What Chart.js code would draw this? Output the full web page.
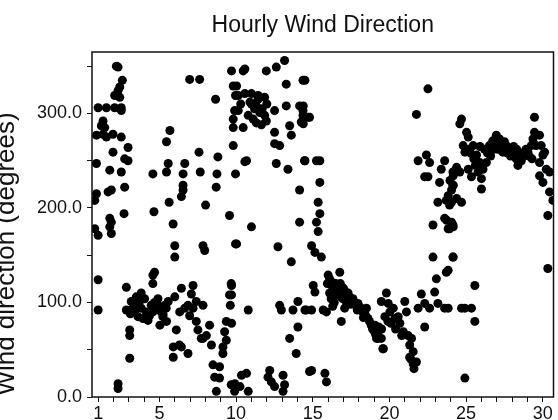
<!DOCTYPE html>
<html>
<head>
<meta charset="utf-8">
<script src="https://cdn.jsdelivr.net/npm/chart.js@4/dist/chart.umd.min.js"></script>
<style>
  html, body { margin: 0; padding: 0; background: #fff; }
  #wrap { width: 558px; height: 420px; }
</style>
</head>
<body>
<div id="wrap"><canvas id="windChart" width="558" height="420"></canvas></div>
<script>
// hourly readings as [day, direction in degrees]
const firstWeek = [
  [2.19,350],[2.3,349],[2.58,335],[2.41,328],[2.3,324],[2.08,319],[2.41,317],
  [1.0,306],[1.54,306],[2.08,306],[2.51,306],[2.51,303],
  [1.32,292],[1.21,287],[1.43,285],[1.32,278],[0.89,277],[1.54,275],[1.97,278],[2.51,275],
  [2.95,264],[1.97,259],[2.73,252],[2.95,250],[0.89,247],[1.76,240],[2.51,238],
  [4.57,236],[2.73,222],[1.86,219],[1.65,217],[0.89,215],[0.78,208],
  [2.69,194],[4.64,196],[1.76,189],[1.86,185],[1.76,180],[1.86,173],[0.78,178],[1.0,171],
  [4.68,132],[4.57,129],[1.0,124],[4.57,120],[2.84,116],[1.0,92],[2.84,92],
  [3.06,71],[3.06,65],[3.06,41],[2.3,14],[2.3,9],
  [3.81,110],[3.49,106],[3.16,101],[3.7,101],[4.03,104],[4.9,104],[3.27,94],[3.38,90],
  [3.81,94],[4.14,90],[3.6,85],[3.92,83],[4.25,81],[4.57,90],[4.79,94],[5.11,90],
  [5.22,85],[4.9,97],[4.46,97],[5.44,94],[3.1,88],[3.55,96],[4.35,86],[4.68,100],
  [5.14,94],[5.24,87],[5.46,80],[5.03,76],[5.35,97],[5.57,101],
  [6.0,106],[6.43,115],[7.08,109],[7.19,118],[6.32,90],[6.65,94],[6.86,97],[7.19,94],
  [6.97,86],[7.4,101],[7.84,97],[7.4,80],[7.51,71],[7.73,62],[7.84,62],[8.27,76],
  [8.06,65],[8.39,55],[6.1,71],[6.3,55],[5.9,53],[5.9,42],[6.86,46],[6.43,53],
  [5.68,282],[5.46,270],[7.58,259],[8.81,254],[5.57,247],[5.46,238],[6.65,247],[6.54,236],
  [6.54,224],[6.54,219],[6.43,212],[7.66,238],[8.75,236],[8.7,222],[5.63,206],[8.01,203],
  [5.89,183],[6.0,160],[6.0,148],[7.84,160],[7.95,155],[6.97,336],[7.62,336],[8.66,315]
];

const secondWeek = [
  [9.7,345],[9.81,329],[9.96,319],[9.9,303],[9.81,294],[9.81,285],[9.81,266],[9.96,236],
  [9.57,192],[9.96,162],[9.68,120],[9.57,108],[9.62,97],[9.36,80],[9.25,69],[9.36,60],
  [9.14,53],[9.14,46],[8.49,34],[8.92,32],[8.6,21],[8.92,20],[8.71,6],[9.68,13],[9.9,6],
  [10.46,345],[10.57,347],[11.97,345],[12.62,349],[13.16,356],[10.03,329],[13.27,331],[14.36,335],
  [10.14,319],[10.57,321],[11.0,321],[11.43,319],[11.86,317],[10.14,303],[10.79,298],[11.11,294],
  [11.32,308],[11.54,301],[11.86,298],[11.97,292],[12.51,303],[10.46,285],[11.0,310],[11.32,290],
  [11.65,288],[11.43,315],[10.9,312],[11.2,305],[10.3,310],[11.7,305],[12.0,310],
  [13.27,308],[14.14,308],[14.36,303],[14.36,298],[14.25,291],[14.79,296],[13.49,287],[13.6,277],
  [12.51,280],[12.51,268],[12.84,266],[10.68,250],[10.57,249],[12.62,247],[13.38,241],[14.46,250],
  [14.14,219],[11.0,180],[14.14,185],[10.03,162],[12.73,159],[13.6,143],[9.7,118],[9.7,108],
  [10.79,92],[12.84,97],[12.95,92],[13.71,92],[14.03,101],[14.57,92],[9.7,78],[14.03,74],
  [13.49,62],[13.92,46],[14.79,27],[10.35,23],[10.68,25],[9.92,14],[10.25,11],[10.79,6],
  [12.19,28],[12.08,21],[12.3,16],[12.51,11],[13.06,23],[13.16,13],[13.06,6]
];

const thirdWeek = [
  [14.49,335],[14.38,308],[14.7,296],[14.38,289],[14.49,250],[15.24,250],[15.46,250],[15.46,227],
  [15.35,206],[15.46,194],[15.24,185],[15.35,175],[14.92,160],[15.14,153],[15.56,148],
  [15.03,118],[15.14,111],[14.49,92],[14.92,92],[15.68,92],[15.89,90],[14.92,28],[15.79,25],[15.89,16],
  [16.0,129],[16.1,125],[16.2,122],[16.25,118],[16.3,113],[16.43,115],[16.5,120],[16.6,110],
  [16.76,132],[16.76,110],[16.86,80],[16.9,105],[16.97,104],[17.08,94],[17.1,112],[17.2,100],
  [17.3,110],[17.4,106],[17.5,103],[17.62,104],[17.7,100],[17.8,97],[17.95,99],[18.05,95],
  [18.16,94],[18.25,90],[18.38,90],[18.45,86],[18.5,94],[18.6,83],[18.7,80],[18.81,76],
  [18.9,72],[19.03,69],[19.1,66],[19.25,62],[19.3,74],[19.47,62],[19.47,101],[19.57,51],
  [19.05,76],[19.27,69],[19.49,72],[19.16,62],[19.6,51],
  [16.2,104],[16.4,100],[16.6,118],[16.1,110],[15.95,120],[16.3,96],[16.5,108],[16.8,120],
  [17.0,115],[17.2,108],[17.45,98],[17.9,92],[18.3,84],
  [19.8,110],[19.92,99],[20.03,90],[20.25,94],[20.36,83],[20.57,85],[20.68,78],[21.0,101],
  [21.11,90],[20.9,69],[21.22,65],[21.44,62],[21.32,55],[21.55,48],[21.32,42],[21.76,37],
  [21.55,35],[19.7,85],[19.9,80],[20.1,78],[20.4,72],[20.8,65],[21.6,30],[21.4,40]
];

const fourthWeek = [
  [22.51,326],[21.76,299],[21.87,250],[22.41,256],[22.62,248],[22.51,233],[22.3,233],[23.6,250],
  [23.38,241],[23.27,227],[24.14,238],[24.14,224],[23.16,206],[23.71,208],[23.92,203],[22.84,182],
  [23.6,189],[23.92,178],[24.14,182],[22.84,148],[24.14,148],[23.71,132],[23.06,125],[22.95,111],
  [22.08,109],[22.3,99],[21.87,94],[22.62,94],[23.16,99],[23.6,94],[22.3,74],
  [24.7,294],[24.59,289],[25.03,280],[25.14,275],[24.81,266],[25.46,266],[24.92,259],[29.46,296],
  [24.38,243],[24.59,238],[24.16,234],[23.95,229],[24.16,224],[24.05,219],[23.83,213],[24.7,206],
  [24.38,210],[24.05,206],[23.73,187],[24.05,185],[24.16,180],[23.83,178],[25.14,241],[25.35,233],
  [25.68,256],[25.89,248],[25.78,238],[26.0,231],[26.0,220],[26.1,241],[26.32,248],
  [26.52,266],[26.74,271],[26.97,277],[27.18,273],[27.08,262],[27.4,259],[27.62,266],[27.84,262],
  [28.05,259],[28.27,252],[28.38,245],[28.49,256],[28.81,259],[29.03,259],[29.25,266],[29.36,273],
  [29.46,280],[29.79,277],[29.57,266],[29.9,266],[30.01,256],[30.12,259],[29.79,248],[29.79,234],
  [30.01,227],[30.23,241],[30.44,238],[30.44,217],[30.66,208],[30.33,192],[30.33,136],
  [26.6,255],[26.8,262],[27.0,268],[27.3,265],[27.5,270],[27.7,258],[27.9,255],[28.1,265],
  [28.3,262],[28.6,250],[28.7,255],[28.9,262],[29.1,255],[29.3,252],[26.4,258],[26.2,262],
  [25.9,265],[25.5,252],[25.3,258],[25.6,245],[25.2,262],
  [24.16,148],[23.83,134],[25.57,118],[23.83,94],[24.7,94],[24.92,94],[25.35,94],[25.57,80],[24.92,20]
];

const dayTicks = Array.from({ length: 30 }, (_, i) => i + 1);
const dayLabels = [1, 5, 10, 15, 20, 25, 30];
const degreeTicks = [0, 50, 100, 150, 200, 250, 300, 350];
const degreeLabels = [0, 100, 200, 300];

const titleText = 'Hourly Wind Direction';
const yTitleText = 'Wind direction (degrees)';
const fontFamily = '"Liberation Sans", Arial, Helvetica, sans-serif';

const readings = [...firstWeek, ...secondWeek, ...thirdWeek, ...fourthWeek]
  .map(([day, deg]) => ({ x: day, y: deg }));

// box round the plot, title over the plot, rotated y title
const framePlugin = {
  id: 'frame',
  afterDraw(chart) {
    const { ctx, chartArea: a } = chart;
    ctx.save();
    ctx.strokeStyle = '#111';
    ctx.lineWidth = 1.5;
    ctx.strokeRect(a.left, a.top, a.right - a.left, a.bottom - a.top);

    ctx.fillStyle = '#111';
    ctx.font = '23px ' + fontFamily;
    ctx.textAlign = 'center';
    ctx.textBaseline = 'alphabetic';
    ctx.fillText(titleText, (a.left + a.right) / 2, 32);

    // the axis title runs past the left edge of the canvas
    ctx.translate(14, 254);
    ctx.rotate(-Math.PI / 2);
    ctx.font = '26px ' + fontFamily;
    ctx.fillText(yTitleText, 0, 0);
    ctx.restore();
  }
};

new Chart(document.getElementById('windChart'), {
  type: 'scatter',
  data: {
    datasets: [{
      data: readings,
      backgroundColor: '#000',
      borderColor: '#000',
      pointRadius: 4.5,
      pointHoverRadius: 4.5,
      borderWidth: 0
    }]
  },
  options: {
    responsive: false,
    animation: false,
    events: [],
    layout: { padding: { top: 52, right: 2, left: 0, bottom: 0 } },
    plugins: {
      legend: { display: false },
      tooltip: { enabled: false },
      title: { display: false }
    },
    scales: {
      x: {
        type: 'linear',
        min: 0.6,
        max: 30.7,
        afterBuildTicks: s => { s.ticks = dayTicks.map(v => ({ value: v })); },
        afterFit: s => { s.height = 23; },
        border: { display: false },
        grid: { drawOnChartArea: false, drawTicks: true, tickLength: 5, color: '#111', lineWidth: 1 },
        ticks: {
          autoSkip: false,
          maxRotation: 0,
          padding: 1,
          color: '#111',
          font: { family: fontFamily, size: 18 },
          callback: v => dayLabels.includes(v) ? String(v) : ''
        }
      },
      y: {
        min: 0,
        max: 365,
        afterBuildTicks: s => { s.ticks = degreeTicks.map(v => ({ value: v })); },
        afterFit: s => { s.width = 92; },
        border: { display: false },
        grid: { drawOnChartArea: false, drawTicks: true, tickLength: 5, color: '#111', lineWidth: 1 },
        ticks: {
          padding: 5,
          color: '#111',
          font: { family: fontFamily, size: 18 },
          callback: v => degreeLabels.includes(v) ? v.toFixed(1) : ''
        }
      }
    }
  },
  plugins: [framePlugin]
});
</script>
</body>
</html>
